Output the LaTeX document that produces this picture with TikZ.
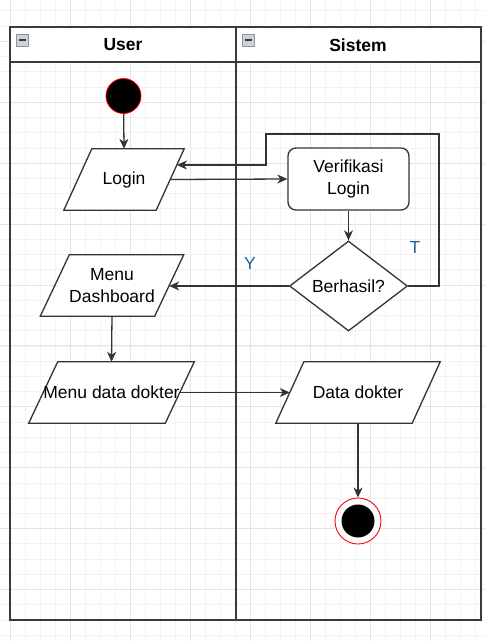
\documentclass[tikz,border=0pt]{standalone}
\usepackage{fontspec}
\setmainfont{Liberation Sans}
\usetikzlibrary{arrows.meta,shapes.geometric}
\definecolor{lane}{HTML}{3A3A3A}
\definecolor{edge}{HTML}{333333}
\definecolor{minorgrid}{HTML}{F3F3F3}
\definecolor{majorgrid}{HTML}{E4E4E4}
\definecolor{lblblue}{HTML}{2A6099}
\definecolor{iconfill}{HTML}{CDD2D8}
\definecolor{iconline}{HTML}{8E959C}
\pgfdeclarelayer{gridlayer}
\pgfdeclarelayer{bg}
\pgfsetlayers{gridlayer,bg,main}
\newcommand\paraline[2]{%
  \begin{pgfonlayer}{bg}
  \draw[shp] ([xshift=#2]#1.north west) -- ([xshift=#2]#1.north east) -- ([xshift=-#2]#1.south east) -- ([xshift=-#2]#1.south west) -- cycle;
  \end{pgfonlayer}}
\begin{document}
\begin{tikzpicture}[x=1pt,y=-1pt,
  txt/.style={font=\fontsize{17.5}{21.5}\selectfont, text=black},
  shp/.style={draw=edge, line width=1.3pt, fill=white},
  arr/.style={draw=edge, line width=1.3pt, -{Stealth[length=10pt,width=9pt,inset=3pt]}},
  pbox/.style={txt, minimum height=61pt, inner sep=0pt, align=center},
  lanes/.style={draw=lane, line width=1.5pt},
  icon/.style={draw=iconline, fill=iconfill, line width=0.8pt, minimum size=12pt, inner sep=0pt}
]
\useasboundingbox (0,0) rectangle (485,641);
% grid
\begin{pgfonlayer}{gridlayer}
\fill[white] (0,0) rectangle (485,641);
\foreach \k in {-1,...,32} \draw[minorgrid, line width=0.8pt] ({10+15*\k},0) -- ({10+15*\k},641);
\foreach \k in {-3,...,39} \draw[minorgrid, line width=0.8pt] (0,{41.3+15.23*\k}) -- (485,{41.3+15.23*\k});
\foreach \k in {0,...,8} \draw[majorgrid, line width=0.9pt] ({10+60*\k},0) -- ({10+60*\k},641);
\foreach \k in {-1,...,9} \draw[majorgrid, line width=0.9pt] (0,{41.3+60.92*\k}) -- (485,{41.3+60.92*\k});
\end{pgfonlayer}
% swimlanes
\begin{pgfonlayer}{bg}
\fill[white] (10,27) rectangle (481,62);
\end{pgfonlayer}
\draw[lanes] (10,27) rectangle (481,620);
\draw[lanes] (10,62) -- (481,62);
\draw[lanes] (236,27) -- (236,620);
\node[icon] (m1) at (22.5,40) {};
\draw[lane, line width=1.6pt] ([xshift=3pt]m1.west) -- ([xshift=-3pt]m1.east);
\node[icon] (m2) at (248.5,40) {};
\draw[lane, line width=1.6pt] ([xshift=3pt]m2.west) -- ([xshift=-3pt]m2.east);
\node[txt, font=\fontsize{17.5}{21.5}\selectfont\bfseries] (hu) at (123,45) {User};
\node[txt, font=\fontsize{17.5}{21.5}\selectfont\bfseries] (hs) at (358,45) {Sistem};
% nodes
\node[circle, fill=black, draw=red, line width=0.8pt, minimum size=35pt, inner sep=0pt] (start) at (123.5,96) {};
\node[pbox, minimum width=92pt] (login) at (124,179.5) {Login};
\paraline{login}{14pt}
\node[txt, shp, rounded corners=8pt, minimum width=121pt, minimum height=62pt, align=center, inner sep=0pt] (verif) at (348.5,179) {Verifikasi\\Login};
\node[txt, shp, diamond, aspect=1.3, minimum width=118pt, minimum height=90pt, inner sep=0pt] (dia) at (348.5,286) {Berhasil?};
\node[pbox, minimum width=114pt] (md) at (112,285.5) {Menu\\Dashboard};
\paraline{md}{14.5pt}
\node[pbox, minimum width=136pt] (mdd) at (111.5,392.5) {Menu data dokter};
\paraline{mdd}{14.5pt}
\node[pbox, minimum width=136pt] (dd) at (358,392.5) {Data dokter};
\paraline{dd}{14pt}
\node[circle, draw=red, line width=0.9pt, fill=white, minimum size=46pt, inner sep=0pt] (end) at (358,521) {};
\node[circle, fill=black, minimum size=33pt, inner sep=0pt] (endin) at (end) {};
% labels
\node[txt, text=lblblue] (ylbl) at (250,263) {Y};
\node[txt, text=lblblue] (tlbl) at (415,247) {T};
% connectors
\coordinate (lp1) at (439,134);
\coordinate (lp2) at (266,165);
\draw[arr] (start) -- (login.north);
\draw[arr] (login.east) -- (verif.west);
\draw[arr] (verif.south) -- (dia.north);
\draw[arr] (dia.east) -| (lp1) -| (lp2) -- ([xshift=6.7pt,yshift=14.5pt]login.east);
\draw[arr] (dia.west) -- (dia.west -| md.east);
\draw[arr] (md.south) -- (mdd.north);
\draw[arr] (mdd.east) -- (dd.west);
\draw[arr] (dd.south) -- (end.north);
\end{tikzpicture}
\end{document}
